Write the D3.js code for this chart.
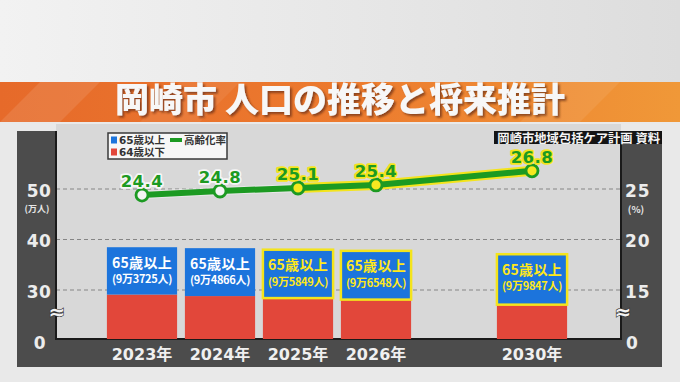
<!DOCTYPE html>
<html><head><meta charset="utf-8">
<script src="https://cdn.jsdelivr.net/npm/d3@7"></script>
<style>
html,body{margin:0;padding:0;background:#e8e8e8;}
svg{display:block;}
</style></head>
<body>
<svg id="chart" width="680" height="382"></svg>
<script>
// ---- data ----
const title = "岡崎市 人口の推移と将来推計";
const source = "岡崎市地域包括ケア計画 資料";
const years = ["2023年", "2024年", "2025年", "2026年", "2030年"];
const slots = ["2023年", "2024年", "2025年", "2026年", "gap", "2030年"];
const under64 = [29.1, 28.8, 28.4, 28.1, 27.1];           // 万人
const over65 = [9.3725, 9.4866, 9.5849, 9.6548, 9.9847];  // 万人
const over65Labels = ["(9万3725人)", "(9万4866人)", "(9万5849人)", "(9万6548人)", "(9万9847人)"];
const agingRate = [24.4, 24.8, 25.1, 25.4, 26.8];          // %
const projected = [false, false, true, true, true];
const leftTicks = [0, 30, 40, 50];
const rightTicks = [0, 15, 20, 25];
const legendItems = ["65歳以上", "64歳以下", "高齢化率"];

// ---- colours ----
const C = {blue: "#1c74dc", red: "#e2473a", green: "#1c9a22", yellow: "#f4e41c",
           panel: "#4c4c4c", plot: "#d8d8d8", grid: "#858585"};

const svg = d3.select("#chart");
const defs = svg.append("defs");

const bg = defs.append("linearGradient").attr("id", "bgTop").attr("x1", 0).attr("x2", 1);
bg.append("stop").attr("offset", 0).attr("stop-color", "#f2f2f2");
bg.append("stop").attr("offset", 1).attr("stop-color", "#dddddd");
const ban = defs.append("linearGradient").attr("id", "banner").attr("x1", 0).attr("x2", 1);
ban.append("stop").attr("offset", 0).attr("stop-color", "#e66a2a");
ban.append("stop").attr("offset", 0.5).attr("stop-color", "#ec7a2e");
ban.append("stop").attr("offset", 1).attr("stop-color", "#f09838");
const sh = defs.append("filter").attr("id", "tshadow").attr("x", "-5%").attr("y", "-20%")
  .attr("width", "110%").attr("height", "150%");
sh.append("feDropShadow").attr("dx", 2).attr("dy", 2).attr("stdDeviation", 0.8)
  .attr("flood-color", "#5a2408").attr("flood-opacity", 0.65);

svg.append("rect").attr("width", 680).attr("height", 382).attr("fill", "#e9e9e9");
svg.append("rect").attr("width", 680).attr("height", 82).attr("fill", "url(#bgTop)");

// banner
svg.append("rect").attr("x", 0).attr("y", 82).attr("width", 680).attr("height", 40).attr("fill", "url(#banner)");
[[40, 0.10], [180, 0.07], [560, 0.08]].forEach(([x0, o]) => {
  svg.append("path").attr("d", `M${x0},82 L${x0 + 60},82 L${x0 + 20},122 L${x0 - 40},122 Z`)
    .attr("fill", "#fff").attr("opacity", o);
});
svg.append("text").attr("x", 340).attr("y", 112).attr("text-anchor", "middle")
  .attr("font-family", "'Noto Sans CJK JP', sans-serif").attr("font-weight", 900).attr("font-size", 34)
  .attr("fill", "#f7f7f7").attr("filter", "url(#tshadow)").text(title);

// ---- frame geometry ----
const L = 56, R = 621, T = 124, B = 339;

// scales (axis is broken below 30 / 15: the lower segment collapses so 0 sits at the bottom)
const x = d3.scaleBand().domain(slots).range([103, 571]).paddingInner(0.1).paddingOuter(0.05);
const yL = d3.scaleLinear().domain([0, 20.3, 50]).range([B, B, 189]);
const yR = d3.scaleLinear().domain([0, 10.15, 25]).range([B, B, 189]);

// plot background
svg.append("rect").attr("x", L).attr("y", T).attr("width", R - L).attr("height", B - T).attr("fill", C.plot);

// dark panels
svg.append("rect").attr("x", 17).attr("y", 131).attr("width", L - 17).attr("height", 367 - 131).attr("fill", C.panel);
svg.append("rect").attr("x", R).attr("y", 144).attr("width", 662 - R).attr("height", 367 - 144).attr("fill", C.panel);
svg.append("rect").attr("x", 17).attr("y", B).attr("width", 662 - 17).attr("height", 367 - B).attr("fill", C.panel);

// gridlines
svg.append("g").selectAll("line").data(leftTicks.filter(d => d > 0)).join("line")
  .attr("x1", L).attr("x2", R).attr("y1", d => yL(d)).attr("y2", d => yL(d))
  .attr("stroke", C.grid).attr("stroke-width", 1.2).attr("stroke-dasharray", "4,3");

// plot border (left, bottom, right)
svg.append("path").attr("d", `M${L},${T + 7} V${B} H${R} V${144}`)
  .attr("fill", "none").attr("stroke", "#1a1a1a").attr("stroke-width", 2);

// ---- bars ----
const barG = svg.append("g");
years.forEach((yr, i) => {
  const bx = x(yr), bw = x.bandwidth();
  const total = under64[i] + over65[i];
  barG.append("rect").attr("x", bx).attr("y", yL(under64[i])).attr("width", bw)
    .attr("height", yL(0) - yL(under64[i])).attr("fill", C.red);
  const top = yL(total);
  barG.append("rect").attr("x", bx).attr("y", top).attr("width", bw)
    .attr("height", yL(under64[i]) - top).attr("fill", C.blue)
    .attr("stroke", projected[i] ? C.yellow : "none").attr("stroke-width", 2.5);
  const tc = projected[i] ? "#ffe81a" : "#ffffff";
  barG.append("text").attr("x", bx + bw / 2).attr("y", top + 20.5).attr("text-anchor", "middle")
    .attr("font-family", "'Noto Sans CJK JP', sans-serif").attr("font-weight", "bold")
    .attr("font-size", 14).attr("letter-spacing", 0.3).attr("fill", tc).text("65歳以上");
  barG.append("text").attr("x", bx + bw / 2).attr("y", top + 36).attr("text-anchor", "middle")
    .attr("font-family", "'Noto Sans CJK JP', sans-serif").attr("font-weight", "bold")
    .attr("font-size", 11).attr("letter-spacing", -0.3).attr("fill", tc).text(over65Labels[i]);
});

// ---- axes ----
const numFont = "'DejaVu Sans', 'Noto Sans CJK JP', sans-serif";
const axL = svg.append("g").attr("transform", "translate(39,0)")
  .call(d3.axisLeft(yL).tickValues(leftTicks).tickSize(0).tickFormat(d3.format("d")));
axL.select(".domain").remove();
axL.selectAll("text").attr("x", 0).attr("dy", "0.36em").attr("text-anchor", "middle")
  .attr("font-family", numFont).attr("font-weight", "bold").attr("font-size", 17)
  .attr("letter-spacing", 0.5).attr("fill", "#ececec")
  .attr("transform", d => d === 0 ? "translate(1,3)" : "translate(0,1)");

const axR = svg.append("g").attr("transform", "translate(625,0)")
  .call(d3.axisRight(yR).tickValues(rightTicks).tickSize(0).tickFormat(d3.format("d")));
axR.select(".domain").remove();
axR.selectAll("text").attr("x", 0).attr("dy", "0.36em").attr("text-anchor", "start")
  .attr("font-family", numFont).attr("font-weight", "bold").attr("font-size", 17)
  .attr("letter-spacing", 1).attr("fill", "#ececec")
  .attr("transform", d => d === 0 ? "translate(1,3)" : "translate(0,1)");

svg.append("text").attr("x", 37).attr("y", 211.5).attr("text-anchor", "middle")
  .attr("font-family", "'Noto Sans CJK JP', sans-serif").attr("font-weight", "bold")
  .attr("font-size", 9).attr("fill", "#e6e6e6").text("(万人)");
svg.append("text").attr("x", 636).attr("y", 212.5).attr("text-anchor", "middle")
  .attr("font-family", "'Noto Sans CJK JP', sans-serif").attr("font-weight", "bold")
  .attr("font-size", 9.5).attr("fill", "#e6e6e6").text("(%)");

// axis break marks
[[L + 1, 319], [R + 2, 319]].forEach(([bx, by]) => {
  svg.append("text").attr("x", bx).attr("y", by).attr("text-anchor", "middle")
    .attr("font-family", "'DejaVu Sans', sans-serif").attr("font-weight", "bold").attr("font-size", 20)
    .attr("fill", "#f2f2f2").attr("stroke", "#333").attr("stroke-width", 1.2)
    .attr("paint-order", "stroke").text("≈");
});

const axB = svg.append("g").attr("transform", `translate(0,${B})`)
  .call(d3.axisBottom(x).tickValues(years).tickSize(0));
axB.select(".domain").remove();
axB.selectAll("text").attr("dy", "1.1em")
  .attr("font-family", numFont).attr("font-weight", "bold").attr("font-size", 16)
  .attr("fill", "#f0f0f0");

// ---- line (高齢化率) ----
const pts = years.map((yr, i) => [x(yr) + x.bandwidth() / 2, yR(agingRate[i])]);
const lineGen = d3.line();
const firstProj = projected.indexOf(true);
svg.append("path").attr("d", lineGen(pts.slice(0, firstProj + 1)))
  .attr("fill", "none").attr("stroke", "#f4f4f4").attr("stroke-width", 8).attr("opacity", 0.6);
svg.append("path").attr("d", lineGen(pts.slice(firstProj)))
  .attr("fill", "none").attr("stroke", C.yellow).attr("stroke-width", 10).attr("stroke-linecap", "round");
svg.append("path").attr("d", lineGen(pts))
  .attr("fill", "none").attr("stroke", C.green).attr("stroke-width", 6);
svg.append("g").selectAll("circle").data(pts).join("circle")
  .attr("cx", d => d[0]).attr("cy", d => d[1]).attr("r", 6)
  .attr("fill", (d, i) => projected[i] ? "#f6e820" : "#f4f4f4")
  .attr("stroke", C.green).attr("stroke-width", 2.8);
svg.append("g").selectAll("text").data(pts).join("text")
  .attr("x", d => d[0]).attr("y", d => d[1] - 8).attr("text-anchor", "middle")
  .attr("font-family", numFont).attr("font-weight", "bold").attr("font-size", 16.5)
  .attr("letter-spacing", 0.5)
  .attr("fill", C.green).attr("stroke", (d, i) => projected[i] ? C.yellow : "#f6f6f6")
  .attr("stroke-width", 3.5).attr("stroke-linejoin", "round").attr("paint-order", "stroke")
  .text((d, i) => agingRate[i].toFixed(1));

// ---- legend ----
const lg = svg.append("g");
lg.append("rect").attr("x", 108).attr("y", 133).attr("width", 119).attr("height", 26)
  .attr("fill", "#f7f7f7").attr("stroke", "#3a3a3a").attr("stroke-width", 1.5);
const legFont = "'DejaVu Sans', 'Noto Sans CJK JP', sans-serif";
lg.append("rect").attr("x", 111).attr("y", 136.5).attr("width", 6).attr("height", 7).attr("fill", C.blue);
lg.append("rect").attr("x", 111).attr("y", 148.5).attr("width", 6).attr("height", 7).attr("fill", C.red);
lg.append("text").attr("x", 119).attr("y", 144).attr("font-family", legFont).attr("font-weight", "bold")
  .attr("font-size", 10.5).attr("fill", "#333").text(legendItems[0]);
lg.append("text").attr("x", 119).attr("y", 156).attr("font-family", legFont).attr("font-weight", "bold")
  .attr("font-size", 10.5).attr("fill", "#333").text(legendItems[1]);
lg.append("rect").attr("x", 170).attr("y", 138).attr("width", 12).attr("height", 4).attr("fill", C.green);
lg.append("text").attr("x", 184).attr("y", 144).attr("font-family", legFont).attr("font-weight", "bold")
  .attr("font-size", 10.5).attr("fill", "#333").text(legendItems[2]);

// ---- source ----
svg.append("rect").attr("x", 494).attr("y", 131).attr("width", 168).attr("height", 13).attr("fill", "#141414");
svg.append("text").attr("x", 660).attr("y", 142.5).attr("text-anchor", "end")
  .attr("font-family", "'Noto Sans CJK JP', sans-serif").attr("font-weight", "bold")
  .attr("font-size", 12.3).attr("fill", "#f4f4f4").text(source);
</script>
</body></html>
